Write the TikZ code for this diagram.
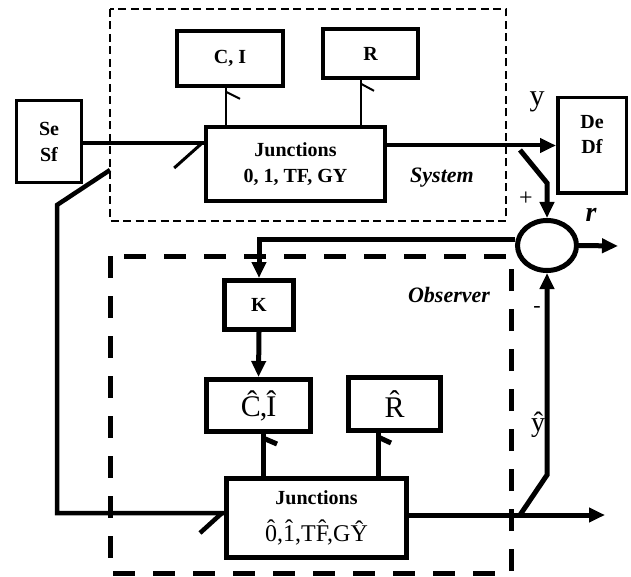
\documentclass[tikz,border=0pt]{standalone}
\usepackage{fontspec}
\setmainfont{Liberation Serif}
\usetikzlibrary{arrows.meta,shapes.geometric}
\newcommand\hatch[1]{\accent"02C6 #1}
\begin{document}
\begin{tikzpicture}[x=1pt,y=-1pt,
  box/.style={draw, rectangle, inner sep=0pt, align=center,
    font=\fontsize{20}{26}\selectfont\bfseries},
  sbox/.style={box, line width=3.6pt},
  obox/.style={box, line width=5pt},
  hatfont/.style={font=\fontsize{30}{32}\selectfont},
  tip/.style={-{Triangle[length=16pt,width=14pt]}},
  sline/.style={line width=4pt},
  oline/.style={line width=5pt},
  thin/.style={line width=2pt},
  lab/.style={inner sep=0pt},
  ital/.style={lab, font=\fontsize{22}{24}\selectfont\bfseries\itshape},
  frameA/.style={line width=1.6pt, dash pattern=on 8pt off 4.5pt},
  frameB/.style={line width=5pt, dash pattern=on 22pt off 18pt}
]
\useasboundingbox (0,0) rectangle (631,577);

% frames
\draw[frameA] (110,9) rectangle (506,221);
\draw[frameB] (110,256) rectangle (511,573);

% system nodes
\node[sbox, minimum width=106pt, minimum height=55pt] (CI) at (230,58.5) {C, I};
\node[sbox, minimum width=95pt, minimum height=49pt] (R) at (370.5,53.5) {R};
\node[sbox, line width=3pt, minimum width=65pt, minimum height=82pt] (SeSf) at (49,141.5) {Se\\Sf};
\node[sbox, minimum width=179pt, minimum height=74pt] (J1) at (295.5,164) {Junctions\\0, 1, TF, GY};
\node[sbox, line width=3.5pt, minimum width=68.5pt, minimum height=95.5pt] (DeDf) at (592,145.5) {};
\node[lab, align=center, font=\fontsize{20}{25}\selectfont\bfseries] (DeDfText) at (592,134) {De\\Df};

% sum
\node[draw, ellipse, line width=5pt, minimum width=59pt, minimum height=50pt, inner sep=0pt] (sum) at (547,245.5) {};

% observer nodes
\node[obox, minimum width=69pt, minimum height=49pt] (K) at (259,305) {K};
\node[obox, hatfont, minimum width=104pt, minimum height=52pt] (CIh) at (258.5,405.5) {Ĉ\kern-1pt,\kern-1ptÎ};
\node[obox, hatfont, minimum width=92pt, minimum height=53pt] (Rh) at (394.5,404) {\hatch{R}};
\node[obox, minimum width=180pt, minimum height=79pt] (J2) at (316.5,518)
  {Junctions\\[11pt]{\fontsize{24}{26}\selectfont\mdseries \hatch{0},\hatch{1},T\hatch{F},GŶ}};

% coordinates
\coordinate (b1) at (110,170);
\coordinate (b2) at (57,205);
\coordinate (b3) at (57,513);
\coordinate (c1) at (520,150);
\coordinate (c2) at (547,183);
\coordinate (d1) at (520,515);
\coordinate (d2) at (547,475);
\coordinate (o1) at (618,246);
\coordinate (o2) at (605,515);

% system connectors
\draw[sline] (SeSf.east |- 0,143) -- (J1.west |- 0,143);
\draw[line width=3pt] ([xshift=-2pt]J1.west |- 0,143) -- ++(-28,25);
\draw[sline, tip] (J1.east |- DeDf.west) -- (DeDf.west);
\draw[thin] ([xshift=-4pt]CI.south) -- ([xshift=-4pt]CI.south |- J1.north);
\draw[thin] ([xshift=-4pt,yshift=-4pt]CI.south) -- ++(14,7);
\draw[thin] ([xshift=-9.5pt]R.south) -- ([xshift=-9.5pt]R.south |- J1.north);
\draw[thin] ([xshift=-9.5pt,yshift=-4pt]R.south) -- ++(13,7);

% branches
\draw[line width=4.5pt] (b1) -- (b2) -- (b3) -- (b3 -| J2.west);
\draw[line width=4.5pt] ([xshift=-2pt]b3 -| J2.west) -- ++(-22,20);
\draw[oline, tip] (c1) -- (c2) -- (sum.north);
\draw[oline, tip] (J2.east |- o2) -- (o2);
\draw[oline, tip] (d1) -- (d2) -- (sum.south);
\draw[oline, tip] (sum.east) -- (o1);
\draw[oline, tip] ([yshift=6pt]sum.west) -| (K.north);

% observer connectors
\draw[oline, tip] (K.south) -- (CIh.north);
\draw[oline] ([xshift=4.5pt]CIh.south) -- ([xshift=4.5pt]CIh.south |- J2.north);
\draw[oline] ([xshift=4.5pt,yshift=-4pt]CIh.south) -- ++(14,6);
\draw[oline] ([xshift=-16.5pt]Rh.south) -- ([xshift=-16.5pt]Rh.south |- J2.north);
\draw[oline] ([xshift=-16.5pt,yshift=-4pt]Rh.south) -- ++(13,6);

% labels
\node[lab, anchor=base, font=\fontsize{30}{32}\selectfont] (ylab) at (537,106) {y};
\node[ital, anchor=base] (syslab) at (442,183) {System};
\node[lab, font=\fontsize{24}{26}\selectfont] (plus) at (526,199) {+};
\node[ital, anchor=base, font=\fontsize{28}{30}\selectfont\bfseries\itshape] (rlab) at (591,222) {r};
\node[ital, anchor=base] (obslab) at (449,302) {Observer};
\node[lab, font=\fontsize{22}{24}\selectfont] (minus) at (537,309) {-};
\node[lab, anchor=base, font=\fontsize{28}{30}\selectfont] (yhat) at (538,431) {ŷ};
\end{tikzpicture}
\end{document}
